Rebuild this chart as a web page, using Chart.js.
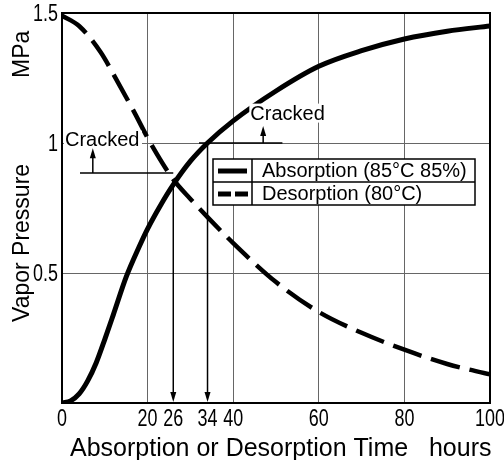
<!DOCTYPE html>
<html>
<head>
<meta charset="utf-8">
<script src="https://cdn.jsdelivr.net/npm/chart.js@4.4.1/dist/chart.umd.min.js"></script>
<style>
body { margin: 0; background: #fff; }
</style>
</head>
<body>
<canvas id="mycanvas" width="504" height="460"></canvas>
<script>
// values (hours, MPa)
var absHours = [0, 2, 4, 6, 8, 10, 12, 15, 18, 20, 23, 26, 30, 34, 40, 50, 60, 70, 80, 90, 100];
var absPress = [0, 0.008, 0.035, 0.085, 0.155, 0.245, 0.34, 0.485, 0.6, 0.67, 0.76, 0.84, 0.93, 1.0, 1.085, 1.2, 1.295, 1.355, 1.4, 1.43, 1.45];
var desHours = [0, 4, 9, 13, 17, 20.5, 26, 30, 34, 40, 50, 60, 70, 80, 90, 100];
var desPress = [1.49, 1.45, 1.35, 1.235, 1.115, 1.005, 0.86, 0.785, 0.715, 0.615, 0.465, 0.35, 0.27, 0.205, 0.15, 0.11];
var seriesLabels = ['Absorption (85°C 85%)', 'Desorption (80°C)'];
var xTicks = [0, 20, 26, 34, 40, 60, 80, 100];
var yTicks = [0, 0.5, 1, 1.5];
var yTickLabels = ['', '0.5', '1', '1.5'];
var crackHours = [26, 34];      // arrows down to the time axis
var crackLevels = [0.885, 1.0]; // pressure of the "Cracked" marker lines

function toPoints(xs, ys) {
    var out = [];
    for (var i in xs) out.push({x: xs[i], y: ys[i]});
    return out;
}

Chart.defaults.font.family = "'Liberation Sans', Arial, sans-serif";
Chart.defaults.color = '#000';
var sans = "'Liberation Sans', Arial, sans-serif";

function arrow(ctx, x, y1, y2) {
    // line from y1 to y2 with the head at y2
    var dir = y2 > y1 ? 1 : -1;
    ctx.beginPath();
    ctx.moveTo(x, y1);
    ctx.lineTo(x, y2 - dir * 6);
    ctx.stroke();
    ctx.beginPath();
    ctx.moveTo(x, y2);
    ctx.lineTo(x - 3, y2 - dir * 10);
    ctx.lineTo(x + 3, y2 - dir * 10);
    ctx.closePath();
    ctx.fill();
}

// condensed tick numbers like the printed figure
function narrowText(ctx, txt, x, y, align) {
    var k = 0.78;
    var w = ctx.measureText(txt).width * k;
    var x0 = align === 'right' ? x - w : (align === 'center' ? x - w / 2 : x);
    ctx.save();
    ctx.translate(x0, y);
    ctx.scale(k, 1);
    ctx.textAlign = 'left';
    ctx.fillText(txt, 0, 0);
    ctx.restore();
}

var extras = {
    id: 'extras',
    afterDatasetsDraw: function(chart) {
        var ctx = chart.ctx, a = chart.chartArea;
        var xs = chart.scales.x, ys = chart.scales.y;
        ctx.save();
        ctx.strokeStyle = '#000';
        ctx.fillStyle = '#000';
        ctx.textBaseline = 'alphabetic';

        // frame
        ctx.lineWidth = 2;
        ctx.strokeRect(a.left, a.top, a.right - a.left, a.bottom - a.top);

        // tick numbers, placed by the scales
        ctx.font = '23px ' + sans;
        xs.ticks.forEach(function(t) {
            narrowText(ctx, String(t.value), xs.getPixelForValue(t.value), a.bottom + 23, 'center');
        });
        ys.ticks.forEach(function(t, i) {
            if (yTickLabels[i]) narrowText(ctx, yTickLabels[i], a.left - 4, ys.getPixelForValue(t.value) + 8, 'right');
        });

        // "Cracked" markers
        ctx.font = '20px ' + sans;
        var lowY = ys.getPixelForValue(crackLevels[0]);
        var upY = ys.getPixelForValue(crackLevels[1]);
        ctx.fillStyle = '#fff';
        ctx.fillRect(a.left + 2, ys.getPixelForValue(0.99) - 15, 78, 18);
        ctx.fillRect(xs.getPixelForValue(44) - 1, ys.getPixelForValue(1.09) - 16, 78, 19);
        ctx.fillStyle = '#000';
        ctx.fillText('Cracked', xs.getPixelForValue(0.7), ys.getPixelForValue(0.99));
        ctx.fillText('Cracked', xs.getPixelForValue(44), ys.getPixelForValue(1.09));

        ctx.lineWidth = 1.5;
        ctx.beginPath();
        ctx.moveTo(xs.getPixelForValue(4.2), lowY);
        ctx.lineTo(xs.getPixelForValue(crackHours[0]), lowY);
        ctx.moveTo(xs.getPixelForValue(32), upY);
        ctx.lineTo(xs.getPixelForValue(51.5), upY);
        ctx.stroke();
        arrow(ctx, xs.getPixelForValue(7.2), lowY, ys.getPixelForValue(0.98));
        arrow(ctx, xs.getPixelForValue(47), upY, ys.getPixelForValue(1.065));
        arrow(ctx, xs.getPixelForValue(crackHours[0]), ys.getPixelForValue(0.86), ys.getPixelForValue(0) - 1);
        arrow(ctx, xs.getPixelForValue(crackHours[1]), ys.getPixelForValue(1.0), ys.getPixelForValue(0) - 1);

        // legend table
        var lx = a.left + 151, ly = a.top + 146, lw = 262, lh = 46, col = 39;
        ctx.fillStyle = '#fff';
        ctx.fillRect(lx, ly, lw, lh);
        ctx.fillStyle = '#000';
        ctx.lineWidth = 1.5;
        ctx.strokeRect(lx, ly, lw, lh);
        ctx.beginPath();
        ctx.moveTo(lx, ly + lh / 2);
        ctx.lineTo(lx + lw, ly + lh / 2);
        ctx.moveTo(lx + col, ly);
        ctx.lineTo(lx + col, ly + lh);
        ctx.stroke();
        ctx.lineWidth = 5;
        ctx.beginPath();
        ctx.moveTo(lx + 5, ly + 12);
        ctx.lineTo(lx + 34, ly + 12);
        ctx.stroke();
        ctx.setLineDash([13, 4]);
        ctx.beginPath();
        ctx.moveTo(lx + 5, ly + 35);
        ctx.lineTo(lx + 35, ly + 35);
        ctx.stroke();
        ctx.setLineDash([]);
        ctx.font = '20px ' + sans;
        ctx.fillText(seriesLabels[0], lx + 49, ly + 18);
        ctx.fillText(seriesLabels[1], lx + 49, ly + 41);

        // axis titles
        ctx.font = '25px ' + sans;
        ctx.fillText('Absorption or Desorption Time   hours', 70, 456);
        ctx.font = '23px ' + sans;
        ctx.translate(29, 322);
        ctx.rotate(-Math.PI / 2);
        ctx.fillText('Vapor Pressure', 0, 0);
        ctx.fillText('MPa', 244, 0);
        ctx.restore();
    }
};

var ctx = document.getElementById('mycanvas');

var chartdata = {
    datasets: [
        {
            label: seriesLabels[0],
            data: toPoints(absHours, absPress),
            borderColor: '#000',
            borderWidth: 5,
            cubicInterpolationMode: 'monotone',
            pointRadius: 0,
            fill: false
        },
        {
            label: seriesLabels[1],
            data: toPoints(desHours, desPress),
            borderColor: '#000',
            borderWidth: 4.5,
            borderDash: [30, 10],
            cubicInterpolationMode: 'monotone',
            pointRadius: 0,
            fill: false
        }
    ]
};

var lineGraph = new Chart(ctx, {
    type: 'line',
    data: chartdata,
    options: {
        responsive: false,
        animation: false,
        layout: { padding: { top: 13, right: 14, bottom: 0, left: 0 } },
        plugins: { legend: { display: false }, tooltip: { enabled: false } },
        scales: {
            x: {
                type: 'linear',
                min: 0,
                max: 100,
                afterBuildTicks: function(s) { s.ticks = xTicks.map(function(v) { return {value: v}; }); },
                afterFit: function(s) { s.height = 57; s.paddingLeft = 0; s.paddingRight = 0; },
                ticks: { display: false },
                border: { display: false },
                grid: {
                    drawTicks: false,
                    lineWidth: 1,
                    color: function(c) {
                        var v = c.tick ? c.tick.value : 0;
                        return (crackHours.indexOf(v) >= 0) ? 'rgba(0,0,0,0)' : '#666';
                    }
                }
            },
            y: {
                min: 0,
                max: 1.5,
                afterBuildTicks: function(s) { s.ticks = yTicks.map(function(v) { return {value: v}; }); },
                afterFit: function(s) { s.width = 62; s.paddingTop = 0; s.paddingBottom = 0; },
                ticks: { display: false },
                border: { display: false },
                grid: { drawTicks: false, lineWidth: 1, color: '#666' }
            }
        }
    },
    plugins: [extras]
});
</script>
</body>
</html>
